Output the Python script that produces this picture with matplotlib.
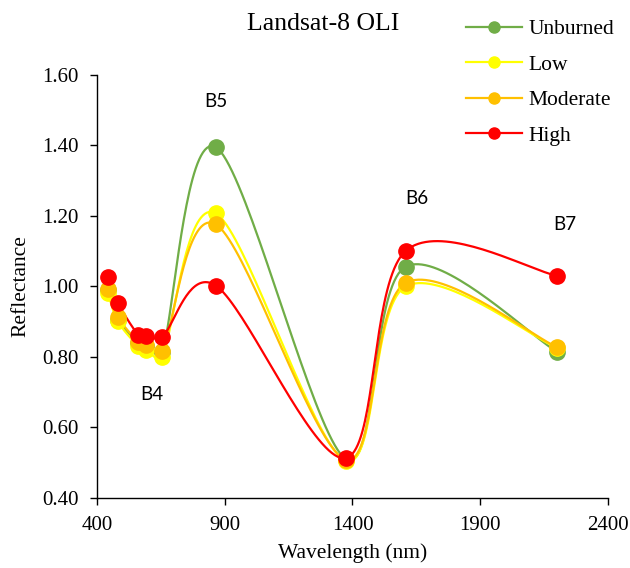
import matplotlib
matplotlib.use("Agg")
import matplotlib.pyplot as plt
import numpy as np

# band centres (nm) and reflectance per burn class
wavelength = [443, 482, 561, 590, 655, 865, 1373, 1609, 2201]
unburned = [0.99, 0.905, 0.838, 0.830, 0.812, 1.395, 0.510, 1.056, 0.814]
low = [0.980, 0.900, 0.830, 0.820, 0.800, 1.207, 0.505, 1.000, 0.825]
moderate = [0.992, 0.912, 0.843, 0.834, 0.817, 1.176, 0.508, 1.010, 0.827]
high = [1.027, 0.952, 0.862, 0.859, 0.857, 1.002, 0.512, 1.101, 1.030]

series = [("Unburned", unburned, "#70AD47"),
          ("Low", low, "#FFFF00"),
          ("Moderate", moderate, "#FFC000"),
          ("High", high, "#FF0000")]

band_labels = [("B4", 615, 0.692), ("B5", 865, 1.525), ("B6", 1653, 1.248), ("B7", 2233, 1.176)]


def cap(v, lim):
    n = np.linalg.norm(v)
    return v if n <= lim or n == 0 else v * lim / n


def smooth(ax, xs, ys, n=40):
    # Excel-like smoothed line (Catmull-Rom beziers), tangents capped so
    # short segments next to big jumps don't loop; done in screen space
    p = ax.transData.transform(np.column_stack([xs, ys]).astype(float))
    p = np.vstack([p[0], p, p[-1]])
    t = np.linspace(0, 1, n)[:, None]
    out = []
    for i in range(1, len(p) - 2):
        b0, b3 = p[i], p[i + 1]
        d = np.linalg.norm(b3 - b0)
        b1 = b0 + cap((p[i + 1] - p[i - 1]) / 6, 0.45 * d)
        b2 = b3 - cap((p[i + 2] - p[i]) / 6, 0.45 * d)
        seg = ((1 - t) ** 3) * b0 + 3 * ((1 - t) ** 2) * t * b1 + 3 * (1 - t) * t ** 2 * b2 + t ** 3 * b3
        out.append(seg)
    out = ax.transData.inverted().transform(np.vstack(out))
    return out[:, 0], out[:, 1]


plt.rcParams['font.family'] = ['Liberation Serif', 'DejaVu Serif']

fig = plt.figure(figsize=(6.3, 5.68), dpi=100)
ax = fig.add_axes([0.154, 0.124, 0.811, 0.744])
ax.set_xlim(400, 2400)
ax.set_ylim(0.40, 1.60)

for name, vals, col in series:
    sx, sy = smooth(ax, wavelength, vals)
    ax.plot(sx, sy, color=col, lw=1.6, zorder=2)
    ax.plot(wavelength, vals, 'o', color=col, ms=11, zorder=3)
    # legend proxy
    ax.plot([], [], '-o', color=col, lw=1.6, ms=8, label=name)

for txt, xv, yv in band_labels:
    ax.text(xv, yv, txt, family='Lato', fontsize=13.5, ha='center', va='center')

ax.set_xticks([400, 900, 1400, 1900, 2400])
ax.set_yticks(np.arange(0.4, 1.61, 0.2))
ax.set_yticklabels([f"{v:.2f}" for v in np.arange(0.4, 1.61, 0.2)])
ax.tick_params(direction='out', length=5, width=1, labelsize=15, pad=8.5)
ax.spines['top'].set_visible(False)
ax.spines['right'].set_visible(False)
for s in ['left', 'bottom']:
    ax.spines[s].set_linewidth(1)
ax.set_xlabel("Wavelength (nm)", fontsize=15.5, labelpad=6)
ax.set_ylabel("Reflectance", fontsize=15.5, labelpad=8)

fig.text(0.513, 0.958, "Landsat-8 OLI", fontsize=18.5, ha='center', va='center')

ax.legend(loc='upper left', bbox_to_anchor=(0.685, 1.178), frameon=False,
          fontsize=15.5, handlelength=2.6, handletextpad=0.3, labelspacing=0.72)

fig.savefig("out.png", dpi=100)
